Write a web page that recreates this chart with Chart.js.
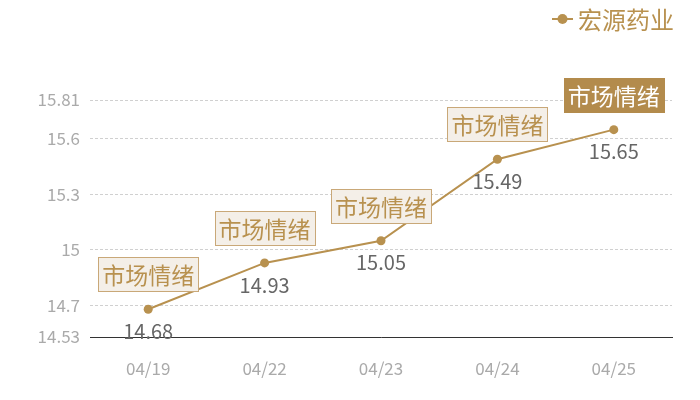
<!DOCTYPE html>
<html><head><meta charset="utf-8">
<script src="https://cdn.jsdelivr.net/npm/chart.js@4"></script>
<style>html,body{margin:0;padding:0;background:#fff}#wrap{width:700px;height:400px}</style>
</head><body><div id="wrap"><canvas id="c" width="700" height="400"></canvas></div>
<script>
const categories = ["04/19","04/22","04/23","04/24","04/25"];
const seriesName = "宏源药业";
const values = [14.68, 14.93, 15.05, 15.49, 15.65];
const yTicks = [14.53, 14.7, 15, 15.3, 15.6, 15.81];
const annotationText = "市场情绪";
const highlightIndex = 4;

const GOLD = "#b8914f";
const FONT = "'Noto Sans CJK SC','Noto Sans',sans-serif";

const overlay = {
  id: "overlay",
  afterDatasetsDraw(chart) {
    const ctx = chart.ctx;
    const meta = chart.getDatasetMeta(0);
    ctx.save();
    meta.data.forEach((pt, i) => {
      // value label
      ctx.font = "20px " + FONT;
      ctx.fillStyle = "#666666";
      ctx.textAlign = "center";
      ctx.textBaseline = "middle";
      ctx.fillText(String(values[i]), pt.x, pt.y + 22);
      // annotation box
      ctx.font = "23px " + FONT;
      const w = 100, h = 34;
      const bx = Math.round(pt.x - w / 2) + 0.5, by = Math.round(pt.y - 18 - h) + 0.5;
      const hl = i === highlightIndex;
      ctx.fillStyle = hl ? "#b38b4c" : "#f4efe8";
      ctx.fillRect(bx, by, w, h);
      ctx.strokeStyle = hl ? "#b38b4c" : "#c9a878";
      ctx.lineWidth = 1;
      ctx.strokeRect(bx, by, w, h);
      ctx.fillStyle = hl ? "#ffffff" : GOLD;
      ctx.fillText(annotationText, pt.x, by + h / 2 + 1);
    });
    // legend
    ctx.strokeStyle = GOLD;
    ctx.lineWidth = 2;
    ctx.beginPath(); ctx.moveTo(552, 19); ctx.lineTo(573, 19); ctx.stroke();
    ctx.fillStyle = GOLD;
    ctx.beginPath(); ctx.arc(562.5, 19, 5, 0, Math.PI * 2); ctx.fill();
    ctx.font = "24px " + FONT;
    ctx.textAlign = "left";
    ctx.textBaseline = "middle";
    ctx.fillText(seriesName, 578, 20);
    ctx.restore();
  }
};

new Chart(document.getElementById("c"), {
  type: "line",
  data: {
    labels: categories,
    datasets: [{
      label: seriesName,
      data: values,
      borderColor: GOLD,
      backgroundColor: GOLD,
      borderWidth: 2,
      pointRadius: 4.5,
      pointBackgroundColor: GOLD,
      pointBorderWidth: 0,
      tension: 0,
      clip: false
    }]
  },
  options: {
    responsive: false,
    animation: false,
    devicePixelRatio: 1,
    layout: { padding: { top: 100, right: 28, left: 0, bottom: 0 } },
    plugins: { legend: { display: false }, tooltip: { enabled: false } },
    scales: {
      x: {
        offset: true,
        grid: { display: false, drawTicks: false },
        border: { display: true, color: "#333333", width: 1 },
        ticks: { color: "#aaaaaa", font: { size: 17, family: FONT }, padding: 21 },
        afterFit(s) { s.height = 63; }
      },
      y: {
        min: 14.53, max: 15.81,
        afterBuildTicks(s) { s.ticks = yTicks.map(v => ({ value: v })); },
        grid: { color: "#d0d0d0", drawTicks: false },
        border: { display: false, dash: [3, 2] },
        ticks: { color: "#aaaaaa", font: { size: 17, family: FONT }, padding: 10,
          callback: v => String(v) },
        afterFit(s) { s.width = 90; }
      }
    }
  },
  plugins: [overlay]
});
</script></body></html>
